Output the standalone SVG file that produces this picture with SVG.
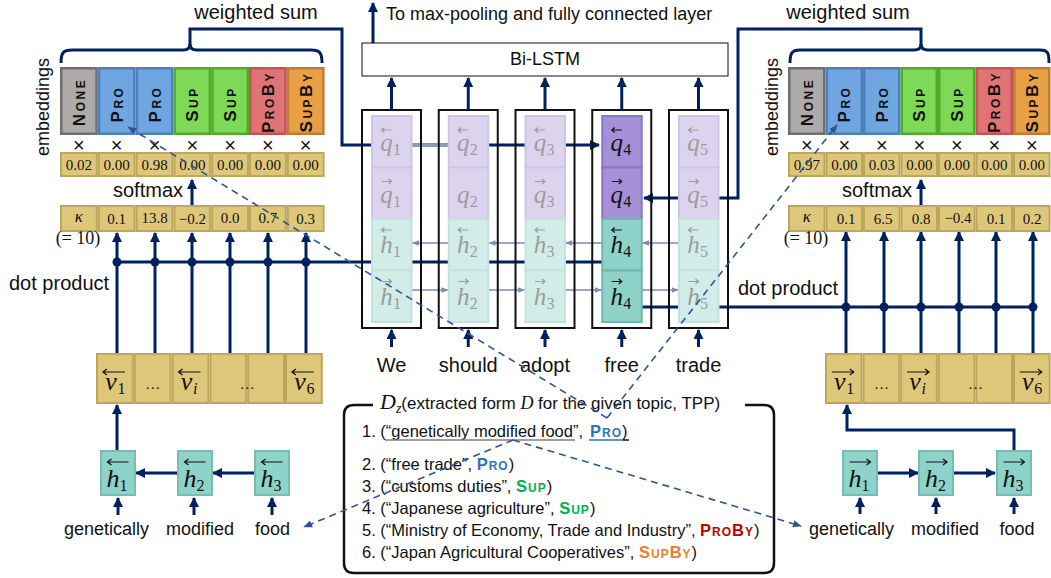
<svg xmlns="http://www.w3.org/2000/svg" width="1051" height="578" viewBox="0 0 1051 578">
<defs>
<style>
.sans{font-family:"Liberation Sans",Arial,sans-serif}
.lbl{font-family:"Liberation Sans",Arial,sans-serif;font-size:20px;fill:#111}
.lblr{font-family:"Liberation Sans",Arial,sans-serif;font-size:18px;fill:#111;text-anchor:middle}
.wd{font-family:"Liberation Sans",Arial,sans-serif;font-size:20px;fill:#111;text-anchor:middle}
.wd2{font-family:"Liberation Sans",Arial,sans-serif;font-size:18px;fill:#111;text-anchor:middle}
.num{font-family:"Liberation Serif","Times New Roman",serif;font-size:15px;fill:#111;text-anchor:middle}
.kap{font-family:"Liberation Serif","Times New Roman",serif;font-style:italic;font-size:17px;fill:#111;text-anchor:middle}
.eq{font-family:"Liberation Serif","Times New Roman",serif;font-size:18px;fill:#111;text-anchor:middle}
.mul{font-family:"Liberation Sans",Arial,sans-serif;font-size:20px;fill:#111;text-anchor:middle}
.gold{fill:#dfc77a;stroke:#bda65e;stroke-width:2}
.emb{font-family:"Liberation Sans",Arial,sans-serif;font-weight:bold;font-size:17px;font-variant:small-caps;letter-spacing:2.5px;fill:#111;text-anchor:middle}
.none{fill:#aeaaaa;stroke:#6f6f6f;stroke-width:2.5}
.pro{fill:#6fa5e0;stroke:#4d80bb;stroke-width:2.5}
.sup{fill:#7ed957;stroke:#4eab2e;stroke-width:2.5}
.proby{fill:#e07474;stroke:#c25454;stroke-width:2.5}
.supby{fill:#e9a044;stroke:#c27c30;stroke-width:2.5}
.col{fill:none;stroke:#111;stroke-width:2}
.fq{fill:#dcd4ee;stroke:#cfc6e7;stroke-width:2}
.fh{fill:#d2ece8;stroke:#c4e3de;stroke-width:2}
.hq{fill:#a590d8;stroke:#8b76c8;stroke-width:2}
.hh{fill:#8fd2c9;stroke:#6fb8ae;stroke-width:2}
.tb{fill:#8ed3ca;stroke:#76bdb3;stroke-width:2}
.ml{font-family:"Liberation Serif","Times New Roman",serif;font-style:italic;font-size:25px;text-anchor:middle}
.ms{font-family:"Liberation Serif","Times New Roman",serif;font-size:16px}
.bl{font-family:"Liberation Serif","Times New Roman",serif;font-style:italic;font-size:26px;text-anchor:middle;fill:#111}
.bs{font-family:"Liberation Serif","Times New Roman",serif;font-size:16px;fill:#111}
.fade{fill:#9c9c9c}
.dark{fill:#111}
.accf{fill:none;stroke:#9c9c9c;stroke-width:1.2}
.accd{fill:none;stroke:#111;stroke-width:1.2}
.nv{fill:none;stroke:#002060;stroke-width:3}
.nva{fill:none;stroke:#002060;stroke-width:3;marker-end:url(#ah)}
.thin{fill:none;stroke:#7d8cb0;stroke-width:1.5;marker-end:url(#ahs)}
.dash{fill:none;stroke:#2f5597;stroke-width:1.6;stroke-dasharray:7 5;marker-end:url(#ahd)}
.dot{fill:#002060}
.lst{font-family:"Liberation Sans",Arial,sans-serif;font-size:16.5px;fill:#111}
.sc{font-weight:bold;font-variant:small-caps;letter-spacing:1px}
.cpro{fill:#2e75b6}.csup{fill:#00b050}.cproby{fill:#c00000}.csupby{fill:#ed7d31}
</style>
<marker id="ah" viewBox="0 0 10 10" refX="9" refY="5" markerWidth="10" markerHeight="10" markerUnits="userSpaceOnUse" orient="auto"><path d="M0,0 L10,5 L0,10 z" fill="#002060"/></marker>
<marker id="ahs" viewBox="0 0 10 10" refX="9" refY="5" markerWidth="7" markerHeight="7" markerUnits="userSpaceOnUse" orient="auto"><path d="M0,1 L10,5 L0,9 z" fill="#7d8cb0"/></marker>
<marker id="ahd" viewBox="0 0 10 10" refX="9" refY="5" markerWidth="9" markerHeight="9" markerUnits="userSpaceOnUse" orient="auto"><path d="M0,1 L10,5 L0,9 z" fill="#2f5597"/></marker>
</defs>
<rect width="1051" height="578" fill="#fff"/>

<!-- connectors (solid) -->
<g id="connectors">
<path class="nv" d="M61,63 C61,53 63,50 72,50 H183 Q190,50 190,44 Q190,50 197,50 H311 C320,50 322,53 322,63"/>
<path class="nva" d="M190,46 V29 H342 V145 H599"/>
<path d="M411.5,145 H448.75" fill="none" stroke="#8e9dbd" stroke-width="3"/>
<path class="nv" d="M790,63 C790,53 792,50 800,50 H914 Q921,50 921,44 Q921,50 928,50 H1040 C1048,50 1049,53 1049,63"/>
<path class="nva" d="M921,46 V29 H738 V198 H644"/>
<path class="nv" d="M117,262 H602"/>
<path class="nv" d="M641.75,307 H1033"/>
<path class="nva" d="M117,354 V233"/><path class="nva" d="M155,354 V233"/><path class="nva" d="M192,354 V233"/><path class="nva" d="M230,354 V233"/><path class="nva" d="M268,354 V233"/><path class="nva" d="M306,354 V233"/>
<circle class="dot" cx="117" cy="262" r="4.5"/><circle class="dot" cx="155" cy="262" r="4.5"/><circle class="dot" cx="192" cy="262" r="4.5"/><circle class="dot" cx="230" cy="262" r="4.5"/><circle class="dot" cx="268" cy="262" r="4.5"/><circle class="dot" cx="306" cy="262" r="4.5"/>
<path class="nva" d="M846,354 V232"/><path class="nva" d="M884,354 V232"/><path class="nva" d="M921,354 V232"/><path class="nva" d="M959,354 V232"/><path class="nva" d="M996,354 V232"/><path class="nva" d="M1033,354 V232"/>
<circle class="dot" cx="846" cy="307" r="4.5"/><circle class="dot" cx="884" cy="307" r="4.5"/><circle class="dot" cx="921" cy="307" r="4.5"/><circle class="dot" cx="959" cy="307" r="4.5"/><circle class="dot" cx="996" cy="307" r="4.5"/><circle class="dot" cx="1033" cy="307" r="4.5"/>
<path class="nva" d="M192,205 V180"/>
<path class="nva" d="M921,205 V180"/>
<path class="nva" d="M373,43 V3"/>
<path class="nva" d="M391.5,110 V78"/><path class="nva" d="M468.25,110 V78"/><path class="nva" d="M545,110 V78"/><path class="nva" d="M621.75,110 V78"/><path class="nva" d="M698.5,110 V78"/>
<path class="nva" d="M391.5,347 V330"/><path class="nva" d="M468.25,347 V330"/><path class="nva" d="M545,347 V330"/><path class="nva" d="M621.75,347 V330"/><path class="nva" d="M698.5,347 V330"/>
<path class="thin" d="M448.75,243 H412.5"/><path class="thin" d="M525.5,243 H489.25"/><path class="thin" d="M602.25,243 H566"/><path class="thin" d="M679,243 H642.75"/>
<path class="thin" d="M411.5,290 H447.75"/><path class="thin" d="M488.25,290 H524.5"/><path class="thin" d="M565,290 H601.25"/><path class="thin" d="M641.75,290 H678"/>
<path class="nva" d="M117,450 V405"/>
<path class="nva" d="M254,473 H213"/><path class="nva" d="M177,473 H136"/>
<path class="nva" d="M118,515 V498"/><path class="nva" d="M194,515 V498"/><path class="nva" d="M272,515 V498"/>
<path class="nva" d="M877,473 H918"/><path class="nva" d="M953,473 H995"/>
<path class="nva" d="M1014,450 V430 H847 V405"/>
<path class="nva" d="M860,514 V498"/><path class="nva" d="M936,514 V498"/><path class="nva" d="M1014,514 V498"/>
</g>

<!-- top text -->
<text class="lbl" x="256" y="19" text-anchor="middle">weighted sum</text>
<text class="lbl" x="848" y="19" text-anchor="middle">weighted sum</text>
<text class="sans" x="386" y="20" font-size="18" fill="#111">To max-pooling and fully connected layer</text>

<g id="bilstm">
<rect x="362" y="43" width="366" height="33" fill="#fff" stroke="#111" stroke-width="1"/>
<text class="sans" x="545" y="65" font-size="18" fill="#111" text-anchor="middle">Bi-LSTM</text>
</g>

<!-- left embeddings -->
<g id="emb-left">
<text class="lblr" transform="translate(49,107) rotate(-90)">embeddings</text>
<rect class="none" x="61.25" y="68.25" width="35.3" height="65.5"/>
<rect class="pro" x="99.05" y="68.25" width="35.3" height="65.5"/>
<rect class="pro" x="136.85" y="68.25" width="35.3" height="65.5"/>
<rect class="sup" x="174.65" y="68.25" width="35.3" height="65.5"/>
<rect class="sup" x="212.45" y="68.25" width="35.3" height="65.5"/>
<rect class="proby" x="250.25" y="68.25" width="35.3" height="65.5"/>
<rect class="supby" x="288.05" y="68.25" width="35.3" height="65.5"/>
<text class="emb" transform="translate(85,102) rotate(-90)">None</text>
<text class="emb" transform="translate(123,104) rotate(-90)">Pro</text>
<text class="emb" transform="translate(160.5,104) rotate(-90)">Pro</text>
<text class="emb" transform="translate(198.3,104) rotate(-90)">Sup</text>
<text class="emb" transform="translate(236.1,104) rotate(-90)">Sup</text>
<text class="emb" transform="translate(274,102) rotate(-90)">ProBy</text>
<text class="emb" transform="translate(311.7,102) rotate(-90)">SupBy</text>
</g>
<g id="mul-left">
<text class="mul" x="78.9" y="152">×</text><text class="mul" x="116.7" y="152">×</text><text class="mul" x="154.5" y="152">×</text><text class="mul" x="192.3" y="152">×</text><text class="mul" x="230.1" y="152">×</text><text class="mul" x="267.9" y="152">×</text><text class="mul" x="305.7" y="152">×</text>
</g>
<g id="weights-left">
<rect class="gold" x="61" y="153" width="35.8" height="23"/><rect class="gold" x="98.8" y="153" width="35.8" height="23"/><rect class="gold" x="136.6" y="153" width="35.8" height="23"/><rect class="gold" x="174.4" y="153" width="35.8" height="23"/><rect class="gold" x="212.2" y="153" width="35.8" height="23"/><rect class="gold" x="250" y="153" width="35.8" height="23"/><rect class="gold" x="287.8" y="153" width="35.8" height="23"/>
<text class="num" x="78.9" y="170">0.02</text><text class="num" x="116.7" y="170">0.00</text><text class="num" x="154.5" y="170">0.98</text><text class="num" x="192.3" y="170">0.00</text><text class="num" x="230.1" y="170">0.00</text><text class="num" x="267.9" y="170">0.00</text><text class="num" x="305.7" y="170">0.00</text>
</g>
<text class="lbl" x="113" y="197">softmax</text>
<g id="kappa-left">
<rect class="gold" x="61" y="206" width="35.8" height="25"/><rect class="gold" x="98.8" y="206" width="35.8" height="25"/><rect class="gold" x="136.6" y="206" width="35.8" height="25"/><rect class="gold" x="174.4" y="206" width="35.8" height="25"/><rect class="gold" x="212.2" y="206" width="35.8" height="25"/><rect class="gold" x="250" y="206" width="35.8" height="25"/><rect class="gold" x="287.8" y="206" width="35.8" height="25"/>
<text class="kap" x="78.9" y="222">κ</text><text class="num" x="116.7" y="224">0.1</text><text class="num" x="154.5" y="223">13.8</text><text class="num" x="192.3" y="224">−0.2</text><text class="num" x="230.1" y="223">0.0</text><text class="num" x="267.9" y="223">0.7</text><text class="num" x="305.7" y="224">0.3</text>
<text class="eq" x="78" y="244">(= 10)</text>
</g>
<text class="lbl" x="9" y="290">dot product</text>

<g id="v-left">
<rect class="gold" x="97" y="354" width="35.8" height="49"/><rect class="gold" x="134.8" y="354" width="35.8" height="49"/><rect class="gold" x="172.6" y="354" width="35.8" height="49"/><rect class="gold" x="210.4" y="354" width="35.8" height="49"/><rect class="gold" x="248.2" y="354" width="35.8" height="49"/><rect class="gold" x="286" y="354" width="35.8" height="49"/>
<path class="accd" d="M124.9,372 H102.9 M106.9,369 L102.9,372 L106.9,375"/><text class="bl" x="110.9" y="390">v</text><text class="bs" x="117.4" y="394">1</text>
<text class="num" x="152.7" y="389">…</text>
<path class="accd" d="M200.5,372 H178.5 M182.5,369 L178.5,372 L182.5,375"/><text class="bl" x="186.5" y="390">v</text><text class="bs" x="193" y="394" font-style="italic">i</text>
<text class="num" x="247.2" y="389">…</text>
<path class="accd" d="M313.9,372 H291.9 M295.9,369 L291.9,372 L295.9,375"/><text class="bl" x="299.9" y="390">v</text><text class="bs" x="306.4" y="394">6</text>
</g>

<g id="h-left-1"><rect class="tb" x="101" y="451" width="34" height="44"/><path class="accd" d="M128.5,462 H107.5 M111.5,459 L107.5,462 L111.5,465"/><text class="bl" x="113" y="487">h</text><text class="bs" x="119.5" y="491">1</text></g>
<g id="h-left-2"><rect class="tb" x="178" y="451" width="34" height="44"/><path class="accd" d="M205.5,462 H184.5 M188.5,459 L184.5,462 L188.5,465"/><text class="bl" x="190" y="487">h</text><text class="bs" x="196.5" y="491">2</text></g>
<g id="h-left-3"><rect class="tb" x="255" y="451" width="34" height="44"/><path class="accd" d="M282.5,462 H261.5 M265.5,459 L261.5,462 L265.5,465"/><text class="bl" x="267" y="487">h</text><text class="bs" x="273.5" y="491">3</text></g>
<text class="wd2" x="106.5" y="535">genetically</text>
<text class="wd2" x="200" y="535">modified</text>
<text class="wd2" x="272.5" y="535">food</text>

<!-- columns -->
<g id="col1">
<rect class="fq" x="372" y="116" width="39.5" height="51.5"/><rect class="fq" x="372" y="167.5" width="39.5" height="51.5"/><rect class="fh" x="372" y="219" width="39.5" height="51.5"/><rect class="fh" x="372" y="270.5" width="39.5" height="51.5"/>
<rect class="col" x="362" y="110" width="59" height="218"/>
<path class="accf" d="M391.5,130 H381.5 M384.5,127.5 L381.5,130 L384.5,132.5 M381.5,181.5 H391.5 M388.5,179 L391.5,181.5 L388.5,184 M391.5,230 H381.5 M384.5,227.5 L381.5,230 L384.5,232.5 M381.5,281.5 H391.5 M388.5,279 L391.5,281.5 L388.5,284"/>
<text class="ml fade" x="386.5" y="151">q</text><text class="ms fade" x="393" y="155">1</text>
<text class="ml fade" x="386.5" y="202.5">q</text><text class="ms fade" x="393" y="206.5">1</text>
<text class="ml fade" x="386.5" y="253">h</text><text class="ms fade" x="393" y="257">1</text>
<text class="ml fade" x="386.5" y="304.5">h</text><text class="ms fade" x="393" y="308.5">1</text>
</g>
<g id="col2">
<rect class="fq" x="448.75" y="116" width="39.5" height="51.5"/><rect class="fq" x="448.75" y="167.5" width="39.5" height="51.5"/><rect class="fh" x="448.75" y="219" width="39.5" height="51.5"/><rect class="fh" x="448.75" y="270.5" width="39.5" height="51.5"/>
<rect class="col" x="438.75" y="110" width="59" height="218"/>
<path class="accf" d="M468.25,130 H458.25 M461.25,127.5 L458.25,130 L461.25,132.5 M468.25,230 H458.25 M461.25,227.5 L458.25,230 L461.25,232.5 M458.25,281.5 H468.25 M465.25,279 L468.25,281.5 L465.25,284"/>
<text class="ml fade" x="463.25" y="151">q</text><text class="ms fade" x="469.75" y="155">2</text>
<text class="ml fade" x="463.25" y="202.5">q</text><text class="ms fade" x="469.75" y="206.5">2</text>
<text class="ml fade" x="463.25" y="253">h</text><text class="ms fade" x="469.75" y="257">2</text>
<text class="ml fade" x="463.25" y="304.5">h</text><text class="ms fade" x="469.75" y="308.5">2</text>
</g>
<g id="col3">
<rect class="fq" x="525.5" y="116" width="39.5" height="51.5"/><rect class="fq" x="525.5" y="167.5" width="39.5" height="51.5"/><rect class="fh" x="525.5" y="219" width="39.5" height="51.5"/><rect class="fh" x="525.5" y="270.5" width="39.5" height="51.5"/>
<rect class="col" x="515.5" y="110" width="59" height="218"/>
<path class="accf" d="M545,130 H535 M538,127.5 L535,130 L538,132.5 M535,181.5 H545 M542,179 L545,181.5 L542,184 M545,230 H535 M538,227.5 L535,230 L538,232.5 M535,281.5 H545 M542,279 L545,281.5 L542,284"/>
<text class="ml fade" x="540" y="151">q</text><text class="ms fade" x="546.5" y="155">3</text>
<text class="ml fade" x="540" y="202.5">q</text><text class="ms fade" x="546.5" y="206.5">3</text>
<text class="ml fade" x="540" y="253">h</text><text class="ms fade" x="546.5" y="257">3</text>
<text class="ml fade" x="540" y="304.5">h</text><text class="ms fade" x="546.5" y="308.5">3</text>
</g>
<g id="col4">
<rect class="hq" x="602.25" y="116" width="39.5" height="51.5"/><rect class="hq" x="602.25" y="167.5" width="39.5" height="51.5"/><rect class="hh" x="602.25" y="219" width="39.5" height="51.5"/><rect class="hh" x="602.25" y="270.5" width="39.5" height="51.5"/>
<rect class="col" x="592.25" y="110" width="59" height="218"/>
<path class="accd" d="M621.75,130 H611.75 M614.75,127.5 L611.75,130 L614.75,132.5 M611.75,181.5 H621.75 M618.75,179 L621.75,181.5 L618.75,184 M621.75,230 H611.75 M614.75,227.5 L611.75,230 L614.75,232.5 M611.75,281.5 H621.75 M618.75,279 L621.75,281.5 L618.75,284"/>
<text class="ml dark" x="616.75" y="151">q</text><text class="ms dark" x="623.25" y="155">4</text>
<text class="ml dark" x="616.75" y="202.5">q</text><text class="ms dark" x="623.25" y="206.5">4</text>
<text class="ml dark" x="616.75" y="253">h</text><text class="ms dark" x="623.25" y="257">4</text>
<text class="ml dark" x="616.75" y="304.5">h</text><text class="ms dark" x="623.25" y="308.5">4</text>
</g>
<g id="col5">
<rect class="fq" x="679" y="116" width="39.5" height="51.5"/><rect class="fq" x="679" y="167.5" width="39.5" height="51.5"/><rect class="fh" x="679" y="219" width="39.5" height="51.5"/><rect class="fh" x="679" y="270.5" width="39.5" height="51.5"/>
<rect class="col" x="669" y="110" width="59" height="218"/>
<path class="accf" d="M698.5,130 H688.5 M691.5,127.5 L688.5,130 L691.5,132.5 M688.5,181.5 H698.5 M695.5,179 L698.5,181.5 L695.5,184 M698.5,230 H688.5 M691.5,227.5 L688.5,230 L691.5,232.5 M688.5,281.5 H698.5 M695.5,279 L698.5,281.5 L695.5,284"/>
<text class="ml fade" x="693.5" y="151">q</text><text class="ms fade" x="700" y="155">5</text>
<text class="ml fade" x="693.5" y="202.5">q</text><text class="ms fade" x="700" y="206.5">5</text>
<text class="ml fade" x="693.5" y="253">h</text><text class="ms fade" x="700" y="257">5</text>
<text class="ml fade" x="693.5" y="304.5">h</text><text class="ms fade" x="700" y="308.5">5</text>
</g>
<text class="wd" x="391.5" y="372">We</text>
<text class="wd" x="468.25" y="372">should</text>
<text class="wd" x="545" y="372">adopt</text>
<text class="wd" x="621.75" y="372">free</text>
<text class="wd" x="698.5" y="372">trade</text>

<!-- right embeddings -->
<g id="emb-right">
<text class="lblr" transform="translate(778,107) rotate(-90)">embeddings</text>
<rect class="none" x="789.25" y="68.25" width="35" height="65.5"/>
<rect class="pro" x="826.75" y="68.25" width="35" height="65.5"/>
<rect class="pro" x="864.25" y="68.25" width="35" height="65.5"/>
<rect class="sup" x="901.75" y="68.25" width="35" height="65.5"/>
<rect class="sup" x="939.25" y="68.25" width="35" height="65.5"/>
<rect class="proby" x="976.75" y="68.25" width="35" height="65.5"/>
<rect class="supby" x="1014.25" y="68.25" width="35" height="65.5"/>
<text class="emb" transform="translate(812.5,102) rotate(-90)">None</text>
<text class="emb" transform="translate(850,104) rotate(-90)">Pro</text>
<text class="emb" transform="translate(887.5,104) rotate(-90)">Pro</text>
<text class="emb" transform="translate(925,104) rotate(-90)">Sup</text>
<text class="emb" transform="translate(962.5,104) rotate(-90)">Sup</text>
<text class="emb" transform="translate(1000,102) rotate(-90)">ProBy</text>
<text class="emb" transform="translate(1037.5,102) rotate(-90)">SupBy</text>
</g>
<g id="mul-right">
<text class="mul" x="806.75" y="152">×</text><text class="mul" x="844.25" y="152">×</text><text class="mul" x="881.75" y="152">×</text><text class="mul" x="919.25" y="152">×</text><text class="mul" x="956.75" y="152">×</text><text class="mul" x="994.25" y="152">×</text><text class="mul" x="1031.75" y="152">×</text>
</g>
<g id="weights-right">
<rect class="gold" x="789" y="153" width="35.5" height="23"/><rect class="gold" x="826.5" y="153" width="35.5" height="23"/><rect class="gold" x="864" y="153" width="35.5" height="23"/><rect class="gold" x="901.5" y="153" width="35.5" height="23"/><rect class="gold" x="939" y="153" width="35.5" height="23"/><rect class="gold" x="976.5" y="153" width="35.5" height="23"/><rect class="gold" x="1014" y="153" width="35.5" height="23"/>
<text class="num" x="806.75" y="170">0.97</text><text class="num" x="844.25" y="170">0.00</text><text class="num" x="881.75" y="170">0.03</text><text class="num" x="919.25" y="170">0.00</text><text class="num" x="956.75" y="170">0.00</text><text class="num" x="994.25" y="170">0.00</text><text class="num" x="1031.75" y="170">0.00</text>
</g>
<text class="lbl" x="842" y="197">softmax</text>
<g id="kappa-right">
<rect class="gold" x="789" y="206" width="35.5" height="25"/><rect class="gold" x="826.5" y="206" width="35.5" height="25"/><rect class="gold" x="864" y="206" width="35.5" height="25"/><rect class="gold" x="901.5" y="206" width="35.5" height="25"/><rect class="gold" x="939" y="206" width="35.5" height="25"/><rect class="gold" x="976.5" y="206" width="35.5" height="25"/><rect class="gold" x="1014" y="206" width="35.5" height="25"/>
<text class="kap" x="806.75" y="222">κ</text><text class="num" x="846" y="224">0.1</text><text class="num" x="883" y="224">6.5</text><text class="num" x="921" y="224">0.8</text><text class="num" x="958" y="223">−0.4</text><text class="num" x="996" y="224">0.1</text><text class="num" x="1032" y="224">0.2</text>
<text class="eq" x="806" y="244">(= 10)</text>
</g>
<text class="lbl" x="738" y="295">dot product</text>

<g id="v-right">
<rect class="gold" x="826" y="354" width="35.6" height="49"/><rect class="gold" x="863.6" y="354" width="35.6" height="49"/><rect class="gold" x="901.2" y="354" width="35.6" height="49"/><rect class="gold" x="938.8" y="354" width="35.6" height="49"/><rect class="gold" x="976.4" y="354" width="35.6" height="49"/><rect class="gold" x="1014" y="354" width="35.6" height="49"/>
<path class="accd" d="M831.8,372 H853.8 M849.8,369 L853.8,372 L849.8,375"/><text class="bl" x="839.8" y="390">v</text><text class="bs" x="846.3" y="394">1</text>
<text class="num" x="881.4" y="389">…</text>
<path class="accd" d="M907,372 H929 M925,369 L929,372 L925,375"/><text class="bl" x="915" y="390">v</text><text class="bs" x="921.5" y="394" font-style="italic">i</text>
<text class="num" x="975.4" y="389">…</text>
<path class="accd" d="M1019.8,372 H1041.8 M1037.8,369 L1041.8,372 L1037.8,375"/><text class="bl" x="1027.8" y="390">v</text><text class="bs" x="1034.3" y="394">6</text>
</g>

<g id="h-right-1"><rect class="tb" x="843" y="451" width="34" height="44"/><path class="accd" d="M849.5,462 H870.5 M866.5,459 L870.5,462 L866.5,465"/><text class="bl" x="855" y="487">h</text><text class="bs" x="861.5" y="491">1</text></g>
<g id="h-right-2"><rect class="tb" x="919" y="451" width="34" height="44"/><path class="accd" d="M926,462 H947 M943,459 L947,462 L943,465"/><text class="bl" x="931.5" y="487">h</text><text class="bs" x="938" y="491">2</text></g>
<g id="h-right-3"><rect class="tb" x="997" y="451" width="34" height="44"/><path class="accd" d="M1003.5,462 H1024.5 M1020.5,459 L1024.5,462 L1020.5,465"/><text class="bl" x="1009" y="487">h</text><text class="bs" x="1015.5" y="491">3</text></g>
<text class="wd2" x="851.5" y="535">genetically</text>
<text class="wd2" x="945" y="535">modified</text>
<text class="wd2" x="1017" y="535">food</text>

<!-- D_z box -->
<g id="dz">
<path d="M373,405 H354 Q344,405 344,415 V563 Q344,573 354,573 H764 Q774,573 774,563 V415 Q774,405 764,405 H745" fill="none" stroke="#111" stroke-width="2.5"/>
<text x="380" y="409" fill="#111"><tspan font-family="Liberation Serif, serif" font-style="italic" font-size="22">D</tspan><tspan font-family="Liberation Serif, serif" font-style="italic" font-size="14" dy="4">z</tspan><tspan class="sans" font-size="17" dy="-4">(extracted form </tspan><tspan font-family="Liberation Serif, serif" font-style="italic" font-size="18">D</tspan><tspan class="sans" font-size="17"> for the given topic, TPP)</tspan></text>
<text class="lst" x="362" y="437">1. (“genetically modified food”, <tspan class="sc cpro" x="590">Pro</tspan>)</text>
<path d="M385,440 H575" stroke="#7f7f7f" stroke-width="1.5"/>
<path d="M589,440 H623" stroke="#2e75b6" stroke-width="1.5"/>
<path d="M623,440 H629" stroke="#111" stroke-width="1.5"/>
<text class="lst" x="362" y="470">2. (“free trade”, <tspan class="sc cpro">Pro</tspan>)</text>
<text class="lst" x="362" y="492">3. (“customs duties”, <tspan class="sc csup">Sup</tspan>)</text>
<text class="lst" x="362" y="514">4. (“Japanese agriculture”, <tspan class="sc csup">Sup</tspan>)</text>
<text class="lst" x="362" y="536">5. (“Ministry of Economy, Trade and Industry”, <tspan class="sc cproby">ProBy</tspan>)</text>
<text class="lst" x="362" y="558">6. (“Japan Agricultural Cooperatives”, <tspan class="sc csupby">SupBy</tspan>)</text>
</g>

<!-- dashed connectors -->
<g id="dashed-connectors">
<path class="dash" d="M607,418 L128,127"/>
<path class="dash" d="M607,418 L837,125"/>
<path class="dash" d="M513,440 L304,527"/>
<path class="dash" d="M513,440 L801,526"/>
</g>
</svg>
